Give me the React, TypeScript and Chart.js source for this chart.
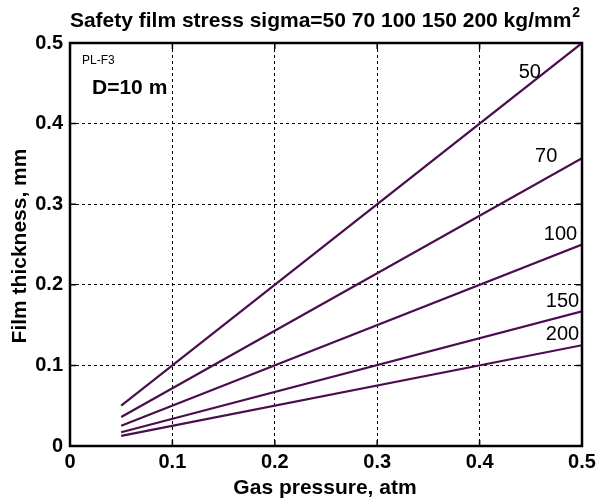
import React, { useEffect, useRef } from "react";
import { Chart, registerables } from "chart.js";

Chart.register(...registerables);

const pressure = [0.05, 0.5];
const sigmaLabels = ["50", "70", "100", "150", "200"];
const thick50 = [0.05, 0.5];
const thick70 = [0.036, 0.357];
const thick100 = [0.025, 0.25];
const thick150 = [0.017, 0.167];
const thick200 = [0.0125, 0.125];
const seriesValues = [thick50, thick70, thick100, thick150, thick200];
const labelPos = [
  [0.449, 0.464],
  [0.465, 0.359],
  [0.479, 0.262],
  [0.481, 0.179],
  [0.481, 0.138],
];
const xTicks = [0, 0.1, 0.2, 0.3, 0.4, 0.5];
const yTicks = [0, 0.1, 0.2, 0.3, 0.4, 0.5];

const FONT = "'Liberation Sans', Arial, sans-serif";
const LINE_COLOR = "#4a0e4e";

const decorPlugin = {
  id: "decor",
  afterDraw(chart: any) {
    const { ctx, chartArea, scales } = chart;
    const { left, right, top, bottom } = chartArea;
    const xs = scales.x;
    const ys = scales.y;
    ctx.save();
    // inner tick marks
    ctx.strokeStyle = "#000";
    ctx.lineWidth = 1.5;
    ctx.setLineDash([]);
    const tl = 6;
    xTicks.forEach((v) => {
      const px = xs.getPixelForValue(v);
      ctx.beginPath();
      ctx.moveTo(px, bottom);
      ctx.lineTo(px, bottom - tl);
      ctx.moveTo(px, top);
      ctx.lineTo(px, top + tl);
      ctx.stroke();
    });
    yTicks.forEach((v) => {
      const py = ys.getPixelForValue(v);
      ctx.beginPath();
      ctx.moveTo(left, py);
      ctx.lineTo(left + tl, py);
      ctx.moveTo(right, py);
      ctx.lineTo(right - tl, py);
      ctx.stroke();
    });
    // frame
    ctx.lineWidth = 2.5;
    ctx.strokeRect(left, top, right - left, bottom - top);

    // title
    ctx.fillStyle = "#000";
    ctx.textBaseline = "alphabetic";
    ctx.font = `bold 21px ${FONT}`;
    const main = "Safety film stress sigma=50 70 100 150 200 kg/mm";
    const mw = ctx.measureText(main).width;
    ctx.font = `bold 14px ${FONT}`;
    const sw = ctx.measureText("2").width;
    const cx = 325;
    const tx = cx - (mw + sw + 1) / 2;
    ctx.font = `bold 21px ${FONT}`;
    ctx.textAlign = "left";
    ctx.fillText(main, tx, 27);
    ctx.font = `bold 14px ${FONT}`;
    ctx.fillText("2", tx + mw + 1, 17);

    // axis titles
    ctx.font = `bold 21px ${FONT}`;
    ctx.textAlign = "center";
    ctx.textBaseline = "middle";
    ctx.fillText("Gas pressure, atm", 325, 488);
    ctx.save();
    ctx.translate(20, 246);
    ctx.rotate(-Math.PI / 2);
    ctx.fillText("Film thickness, mm", 0, 0);
    ctx.restore();

    // series labels
    ctx.font = `20px ${FONT}`;
    ctx.textAlign = "center";
    sigmaLabels.forEach((lab, i) => {
      ctx.fillText(lab, xs.getPixelForValue(labelPos[i][0]), ys.getPixelForValue(labelPos[i][1]));
    });

    // annotations
    ctx.textAlign = "left";
    ctx.font = `12px ${FONT}`;
    ctx.fillText("PL-F3", xs.getPixelForValue(0.0117), ys.getPixelForValue(0.478));
    ctx.font = `bold 21px ${FONT}`;
    ctx.fillText("D=10 m", xs.getPixelForValue(0.0215), ys.getPixelForValue(0.444));
    ctx.restore();
  },
};

export default function App() {
  const ref = useRef<HTMLCanvasElement>(null);
  useEffect(() => {
    if (!ref.current) return;
    const chart = new Chart(ref.current, {
      type: "line",
      data: {
        datasets: seriesValues.map((vals, i) => ({
          label: sigmaLabels[i],
          data: pressure.map((p, j) => ({ x: p, y: vals[j] })),
          borderColor: LINE_COLOR,
          borderWidth: 2.2,
          pointRadius: 0,
          fill: false,
          tension: 0,
        })),
      },
      options: {
        animation: false,
        responsive: false,
        maintainAspectRatio: false,
        layout: { padding: { top: 43, right: 18, left: 0, bottom: 0 } },
        plugins: { legend: { display: false }, title: { display: false }, tooltip: { enabled: false } },
        scales: {
          x: {
            type: "linear",
            min: 0,
            max: 0.5,
            afterFit: (s: any) => {
              s.height = 55;
            },
            afterBuildTicks: (s: any) => {
              s.ticks = xTicks.map((v) => ({ value: v }));
            },
            grid: { color: "#000", lineWidth: 1, drawTicks: false },
            border: { display: false, dash: [3, 3] },
            ticks: {
              color: "#000",
              padding: 4,
              font: { family: FONT, size: 20, weight: "bold" },
              callback: (v: any) => String(v),
            },
          },
          y: {
            type: "linear",
            min: 0,
            max: 0.5,
            afterFit: (s: any) => {
              s.width = 70;
            },
            afterBuildTicks: (s: any) => {
              s.ticks = yTicks.map((v) => ({ value: v }));
            },
            grid: { color: "#000", lineWidth: 1, drawTicks: false },
            border: { display: false, dash: [3, 3] },
            ticks: {
              color: "#000",
              padding: 7,
              font: { family: FONT, size: 20, weight: "bold" },
              callback: (v: any) => String(v),
            },
          },
        },
      },
      plugins: [decorPlugin],
    });
    return () => chart.destroy();
  }, []);
  return (
    <div style={{ position: "fixed", left: 0, top: 0, width: 600, height: 501, background: "#fff" }}>
      <canvas ref={ref} width={600} height={501} style={{ width: 600, height: 501 }} />
    </div>
  );
}
